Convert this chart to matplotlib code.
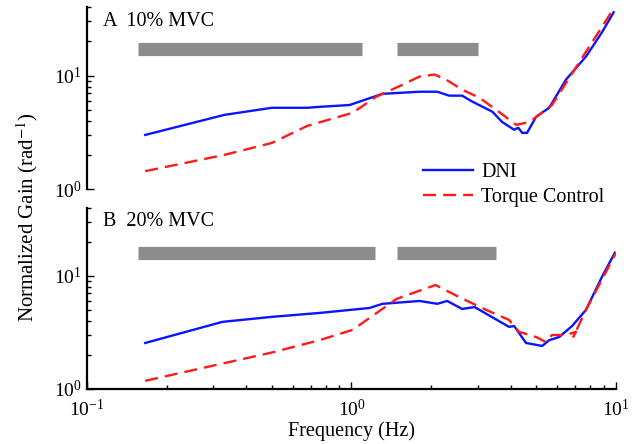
import matplotlib
matplotlib.use('Agg')
import matplotlib.pyplot as plt
import numpy as np

plt.rcParams['font.family'] = ['Liberation Serif', 'DejaVu Serif']
plt.rcParams['mathtext.fontset'] = 'stix'

# panel A (10% MVC)
freq_a_dni = [0.166, 0.33, 0.50, 0.68, 0.757, 0.983, 1.31, 1.81, 2.11, 2.34, 2.62,
              2.86, 3.41, 3.71, 4.12, 4.27, 4.42, 4.61, 4.99, 5.59, 6.47, 7.7, 8.85, 9.8]
gain_a_dni = [3.0, 4.5, 5.2, 5.2, 5.3, 5.5, 6.9, 7.2, 7.2, 6.65, 6.65,
              5.9, 4.8, 3.9, 3.33, 3.47, 3.13, 3.13, 4.34, 5.2, 9.2, 14.7, 24, 36]
freq_a_tc = [0.166, 0.33, 0.50, 0.68, 1.01, 1.24, 1.56, 1.81, 2.06, 2.28, 2.62,
             3.04, 3.52, 4.2, 4.7, 5.12, 5.73, 7.25, 9.6]
gain_a_tc = [1.44, 2.0, 2.55, 3.6, 4.7, 6.5, 8.3, 9.8, 10.2, 9.2, 7.5,
             6.4, 5.0, 3.68, 3.9, 4.5, 5.5, 13, 36]
bars_a = [(0.156, 1.10), (1.49, 3.01)]
bar_y_a = 17

# panel B (20% MVC)
freq_b_dni = [0.166, 0.325, 0.50, 0.757, 1.17, 1.31, 1.81, 2.11, 2.3, 2.62, 2.92,
              3.94, 4.12, 4.57, 5.26, 5.59, 6.1, 6.82, 7.7, 8.85, 9.9]
gain_b_dni = [2.55, 3.92, 4.34, 4.7, 5.2, 5.66, 6.0, 5.66, 6.0, 5.1, 5.3,
              3.54, 3.6, 2.55, 2.4, 2.7, 2.88, 3.6, 5.0, 9.8, 16]
freq_b_tc = [0.166, 0.50, 0.757, 1.01, 1.48, 1.75, 2.08, 2.55, 3.23, 3.94, 4.3,
             4.99, 5.43, 5.73, 6.47, 7.06, 6.9, 7.7, 10.0]
gain_b_tc = [1.18, 2.1, 2.7, 3.33, 6.25, 7.2, 8.3, 6.5, 5.0, 4.08, 3.2,
             2.88, 2.6, 3.0, 3.0, 3.2, 2.9, 5.0, 16]
bars_b = [(0.156, 1.23), (1.49, 3.52)]
bar_y_b = 16

fig = plt.figure(figsize=(6.42, 4.44), dpi=100)
ax1 = fig.add_axes([0.1355, 0.574, 0.824, 0.410])
ax2 = fig.add_axes([0.1355, 0.124, 0.824, 0.408])

panels = [
    (ax1, freq_a_dni, gain_a_dni, freq_a_tc, gain_a_tc, bars_a, bar_y_a, 'A  10% MVC'),
    (ax2, freq_b_dni, gain_b_dni, freq_b_tc, gain_b_tc, bars_b, bar_y_b, 'B  20% MVC'),
]

for ax, fd, gd, ft, gt, bars, by, title in panels:
    for x0, x1 in bars:
        ax.plot([x0, x1], [by, by], color='#8c8c8c', lw=9.5, solid_capstyle='butt')
    ax.plot(fd, gd, color='#0a14ff', lw=1.7, label='DNI')
    ax.plot(ft, gt, color='#ff1a1a', lw=1.7, ls=(0, (5.5, 3)), label='Torque Control')
    ax.set_xscale('log')
    ax.set_yscale('log')
    ax.set_xlim(0.1, 10)
    ax.set_ylim(1, 40)
    ax.spines['top'].set_visible(False)
    ax.spines['right'].set_visible(False)
    ax.spines['left'].set_linewidth(1.6)
    ax.spines['bottom'].set_linewidth(1.6)
    ax.tick_params(which='both', direction='in', labelsize=14, width=1.0)
    ax.tick_params(which='major', length=5)
    ax.tick_params(which='minor', length=3)
    ax.tick_params(axis='x', pad=7)
    ax.text(0.115, 30, title, fontsize=14.5, va='center', ha='left')

ax1.spines['bottom'].set_visible(False)
ax1.tick_params(axis='x', which='both', bottom=False, labelbottom=False)

ax1.legend(loc='lower right', bbox_to_anchor=(1.012, -0.2), frameon=False, fontsize=14.5,
           handlelength=2.5, handletextpad=0.4, labelspacing=0.3)

ax2.set_xlabel('Frequency (Hz)', fontsize=14.5, labelpad=1)
fig.text(0.042, 0.511, 'Normalized Gain (rad$^{-1}$)', rotation=90, fontsize=15,
         va='center', ha='center')

fig.savefig('out.png', dpi=100)
